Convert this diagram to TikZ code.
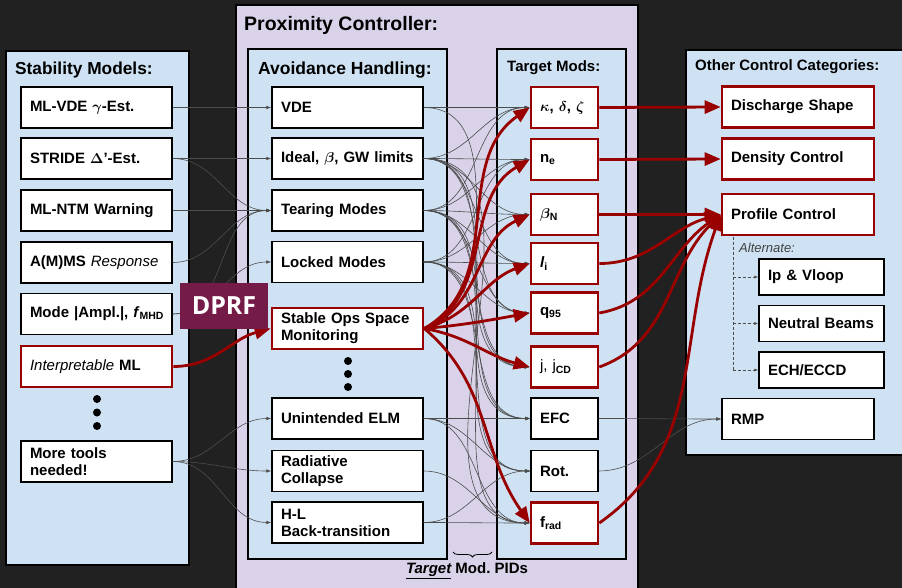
\documentclass[tikz,border=0pt]{standalone}
\usepackage{fontspec}
\setmainfont{Liberation Sans}
\newfontfamily\dprffont{Open Sans}
\usetikzlibrary{arrows.meta,decorations.pathreplacing}

\definecolor{bgdark}{HTML}{212121}
\definecolor{panelblue}{HTML}{CFE2F3}
\definecolor{panelpurple}{HTML}{D9D2E9}
\definecolor{keyred}{HTML}{990000}
\definecolor{dprfplum}{HTML}{741B47}
\definecolor{linkgray}{HTML}{4D4D4D}

\newcommand{\toolfont}{\bfseries\fontsize{15}{17}\selectfont\boldmath}
\frenchspacing

\tikzset{
  panel/.style={draw=black, line width=1.3pt, fill=panelblue},
  paneltitle/.style={anchor=west, inner sep=0pt, font=\bfseries\fontsize{#1}{#1}\selectfont},
  tool/.style={draw=black, fill=white, line width=1.3pt, minimum height=41pt,
    inner xsep=9pt, inner ysep=2pt, text width=#1, align=left, font=\toolfont},
  tool/.default=133pt,
  keytool/.style={tool=#1, draw=keyred, line width=2.6pt},
  keytool/.default=133pt,
  link/.style={draw=linkgray, line width=0.6pt, -{Latex[length=5pt,width=3.5pt]}},
  redlink/.style={draw=keyred, line width=2.8pt, -{Triangle[length=16pt,width=13pt]}},
  altlink/.style={draw=linkgray, line width=0.7pt, dash pattern=on 3pt off 2pt},
  bigdot/.style={circle, fill=black, inner sep=0pt, minimum size=8pt},
}

\begin{document}
\begin{tikzpicture}[x=1pt,y=1pt]
		%%%%% START %%%%%
		\fill[bgdark] (0,0) rectangle (902,-588);
		\useasboundingbox (0,0) rectangle (902,-588);
		
		% panels
		\draw[panel] (6,-51) rectangle (189,-565);
		\draw[panel, fill=panelpurple] (236,-5) rectangle (638,-600);
		\draw[panel] (248,-49) rectangle (447,-559);
		\draw[panel] (497,-49) rectangle (626,-559);
		\draw[panel] (686,-50) rectangle (910,-455);
		
		\node[paneltitle=17.3] (stabtitle) at (15,-70) {Stability Models:};
		\node[paneltitle=19.5] (proxtitle) at (244,-25) {Proximity Controller:};
		\node[paneltitle=17.5] (avoidtitle) at (258,-70) {Avoidance Handling:};
		\node[paneltitle=15] (tmodtitle) at (507,-68) {Target Mods:};
		\node[paneltitle=15] (ctrltitle) at (695,-67) {Other Control Categories:};
		
		% stability models
		\node[tool] (mlvde) at (96.5,-107.5) {ML-VDE $\gamma$-Est.};
		\node[tool] (stride) at (96.5,-158.5) {STRIDE $\Delta$'-Est.};
		\node[tool] (mlntm) at (96.5,-210.5) {ML-NTM Warning};
		\node[tool] (amms) at (96.5,-262.5) {A(M)MS {\mdseries\itshape Response}};
		\node[tool] (mode) at (96.5,-314) {\mbox{Mode |Ampl.|, \textit{f}\textsubscript{MHD}}};
		\node[keytool] (interp) at (96.5,-366.5) {{\mdseries\itshape Interpretable} ML};
		\node[tool] (more) at (96.5,-461.5) {More tools\\needed!};
		\foreach \y in {399,412.5,426} \node[bigdot] at (97,-\y) {};
		
		% avoidance handling
		\node[tool] (vde) at (347.5,-107.5) {VDE};
		\node[tool] (ideal) at (347.5,-158.5) {Ideal, {\mdseries$\beta$}, GW limits};
		\node[tool] (tear) at (347.5,-210.5) {Tearing Modes};
		\node[tool] (locked) at (347.5,-262) {Locked Modes};
		\node[keytool] (stable) at (347.5,-328.5) {Stable Ops Space\\Monitoring};
		\foreach \y in {361,374,387} \node[bigdot] at (348,-\y) {};
		\node[tool] (elm) at (347.5,-418.5) {Unintended ELM};
		\node[tool] (radc) at (347.5,-471) {Radiative\\Collapse};
		\node[tool] (hl) at (347.5,-522.5) {H-L\\Back-transition};
		
		% target mods
		\node[keytool=49pt] (kap) at (564.5,-107.5) {$\kappa$, $\delta$, $\zeta$};
		\node[keytool=49pt] (ne) at (564.5,-159.5) {n\textsubscript{e}};
		\node[keytool=49pt] (betan) at (564.5,-214.5) {$\beta$\textsubscript{N}};
		\node[keytool=49pt] (li) at (564.5,-263.5) {\textit{l}\textsubscript{i}};
		\node[keytool=49pt] (q95) at (564.5,-313) {q\textsubscript{95}};
		\node[keytool=49pt] (jcd) at (564.5,-367) {{\mdseries j,\ j}\textsubscript{CD}};
		\node[tool=49pt] (efc) at (564.5,-418.5) {EFC};
		\node[tool=49pt] (rot) at (564.5,-471) {Rot.};
		\node[keytool=49pt] (frad) at (564.5,-523) {f\textsubscript{rad}};
		
		% other control categories
		\node[keytool=134pt] (shape) at (798,-107) {Discharge Shape};
		\node[keytool=134pt] (dens) at (798,-159) {Density Control};
		\node[keytool=134pt] (prof) at (798,-214.5) {Profile Control};
		\node[anchor=west, inner sep=0pt, font=\itshape\fontsize{13}{13}\selectfont, text=black!75] (altlabel) at (739,-248) {Alternate:};
		\node[tool=107pt, minimum height=36pt] (ipv) at (821.5,-277) {Ip \& Vloop};
		\node[tool=107pt, minimum height=36pt] (nbi) at (821.5,-323.5) {Neutral Beams};
		\node[tool=107pt, minimum height=36pt] (ech) at (821.5,-370) {ECH/ECCD};
		\node[tool=134pt] (rmp) at (798,-419) {RMP};
		
		% thin links
		\foreach \s/\t in {mlvde/vde, stride/ideal, stride/tear, mlntm/tear, amms/tear,
		    mode/tear, mode/locked, more/elm, more/radc, more/hl}
		  \draw[link] (\s.east) to[out=0,in=180] (\t.west);
		\foreach \s/\t in {vde/kap, vde/jcd,
		    ideal/kap, ideal/ne, ideal/betan, ideal/li, ideal/q95, ideal/jcd, ideal/efc, ideal/frad,
		    tear/kap, tear/ne, tear/betan, tear/li, tear/q95, tear/jcd, tear/efc, tear/rot,
		    locked/ne, locked/betan, locked/li, locked/q95, locked/efc, locked/rot, locked/frad,
		    elm/efc, elm/rot, elm/frad, radc/frad, hl/rot, hl/frad, efc/rmp, rot/rmp}
		  \draw[link] (\s.east) to[out=0,in=180] (\t.west);
		
		\coordinate (alttop) at (733,-236.5);
		\coordinate (alt1) at (733,-277);
		\coordinate (alt2) at (733,-323.5);
		\coordinate (alt3) at (733,-370);
		\draw[altlink] (alttop) -- (alt3);
		\draw[altlink, -{Latex[length=4pt,width=3pt]}] (alt1) -- (ipv.west);
		\draw[altlink, -{Latex[length=4pt,width=3pt]}] (alt2) -- (nbi.west);
		\draw[altlink, -{Latex[length=4pt,width=3pt]}] (alt3) -- (ech.west);
		
		% red links
		\draw[redlink] (interp.east) to[out=0,in=195] (stable.west);
		\foreach \t/\o/\i in {kap/30/215, ne/25/210, betan/20/205, li/15/200,
		    q95/5/190, jcd/-10/165, frad/-40/125}
		  \draw[redlink] (stable.east) to[out=\o,in=\i] (\t.west);
		\draw[redlink] (kap.east) -- (shape.west);
		\draw[redlink] (ne.east) -- (dens.west);
		\draw[redlink] (betan.east) -- (prof.west);
		\foreach \s/\o/\i in {li/0/195, q95/10/215, jcd/20/225, frad/35/250}
		  \draw[redlink] (\s.east) to[out=\o,in=\i] (prof.west);
		
		\node[fill=dprfplum, text=white, font=\dprffont\bfseries\fontsize{25}{25}\selectfont,
		  minimum width=88pt, minimum height=46pt, inner sep=0pt] (dprf) at (224,-306) {DPRF};
		
		\draw[decorate, decoration={brace, mirror, amplitude=5pt}, line width=0.8pt] (453,-552) -- (492,-552);
		\node[font=\bfseries\fontsize{15}{15}\selectfont, inner sep=0pt] (pidlabel) at (467,-571) {\underline{\itshape Target} Mod. PIDs};
		%%%%% END %%%%%
\end{tikzpicture}
\end{document}
